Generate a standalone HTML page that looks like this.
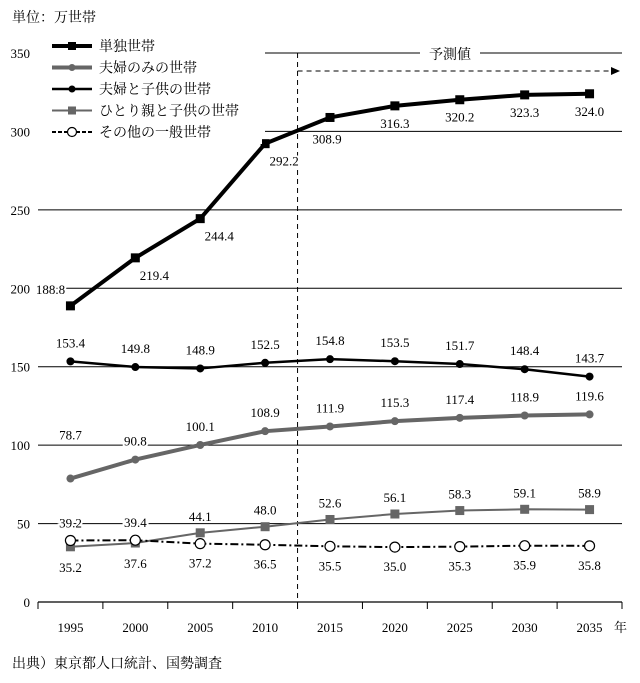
<!DOCTYPE html>
<html><head><meta charset="utf-8"><style>
body{margin:0;background:#fff;}
svg text{font-family:"Liberation Serif","Noto Serif CJK SC",serif;}
</style></head><body>
<svg id="chart" width="640" height="678" viewBox="0 0 640 678" xmlns="http://www.w3.org/2000/svg">
<text x="12" y="22" font-size="14">単位：万世帯</text>
<g id="grid"></g>
<g id="axes"></g>
<g id="series"></g>
<g id="labels"></g>
<g id="legend"></g>
<text x="12" y="668" font-size="14">出典）東京都人口統計、国勢調査</text>
</svg>
<script>
const years=["1995","2000","2005","2010","2015","2020","2025","2030","2035"];
const yTicks=[0,50,100,150,200,250,300,350];
const singleVals=[188.8,219.4,244.4,292.2,308.9,316.3,320.2,323.3,324.0];
const coupleVals=[78.7,90.8,100.1,108.9,111.9,115.3,117.4,118.9,119.6];
const coupleKidsVals=[153.4,149.8,148.9,152.5,154.8,153.5,151.7,148.4,143.7];
const parentKidsVals=[35.2,37.6,44.1,48.0,52.6,56.1,58.3,59.1,58.9];
const otherVals=[39.2,39.4,37.2,36.5,35.5,35.0,35.3,35.9,35.8];
const seriesNames=["単独世帯","夫婦のみの世帯","夫婦と子供の世帯","ひとり親と子供の世帯","その他の一般世帯"];

const NS="http://www.w3.org/2000/svg";
const X0=38,X1=622,Y0=602,Y350=53;
const band=(X1-X0)/years.length;
const xs=i=>X0+band*(i+0.5);
const ys=v=>Y0-(Y0-Y350)*v/350;
function mk(tag,attrs,parent,txt){const e=document.createElementNS(NS,tag);for(const k in attrs)e.setAttribute(k,attrs[k]);if(txt!==undefined)e.textContent=txt;parent.appendChild(e);return e;}
const grid=document.getElementById('grid'),axes=document.getElementById('axes'),ser=document.getElementById('series'),lab=document.getElementById('labels'),leg=document.getElementById('legend');

yTicks.forEach(t=>{
  if(t>0){const start=(t>=300)?265:X0;
    const g=mk('line',{x1:start,x2:X1,y1:ys(t),y2:ys(t),stroke:'#000','stroke-width':1},grid);
    
    }
  const tl=mk('text',{x:30,y:ys(t)+5,'font-size':13,'text-anchor':'end'},axes,String(t));
  
  
});
mk('line',{x1:X0,x2:X1,y1:Y0,y2:Y0,stroke:'#000','stroke-width':1.2},axes);
for(let i=0;i<=years.length;i++){mk('line',{x1:X0+band*i,x2:X0+band*i,y1:Y0,y2:Y0+7,stroke:'#000'},axes);}
years.forEach((y,i)=>{const t=mk('text',{x:xs(i),y:632,'font-size':13,'text-anchor':'middle'},axes,y);
  
  });
mk('text',{x:614,y:632,'font-size':13},axes,'年');
// forecast
const vx=X0+band*4;
mk('line',{x1:vx,x2:vx,y1:Y350,y2:Y0,stroke:'#000','stroke-dasharray':'5,4'},axes);
mk('rect',{x:420,y:44,width:60,height:18,fill:'#fff'},axes);
const ft=mk('text',{x:450,y:59,'font-size':14,'text-anchor':'middle'},axes,'予測値');


mk('line',{x1:vx,x2:612,y1:71,y2:71,stroke:'#000','stroke-dasharray':'5,4'},axes);
mk('path',{d:'M620,71 L611,67 L611,75 Z',fill:'#000'},axes);

function marker(type,x,y,color,size,p){
  if(type==='sq') return mk('rect',{x:x-size/2,y:y-size/2,width:size,height:size,fill:color},p);
  if(type==='c') return mk('circle',{cx:x,cy:y,r:size/2,fill:color},p);
  return mk('circle',{cx:x,cy:y,r:size/2,fill:'#fff',stroke:'#000','stroke-width':1.2},p);
}
const specs=[
 {vals:singleVals,color:'#000',w:4,m:'sq',ms:9,dash:null,name:'single-households'},
 {vals:coupleVals,color:'#666',w:4,m:'c',ms:8,dash:null,name:'couple-only'},
 {vals:coupleKidsVals,color:'#000',w:2.5,m:'c',ms:8,dash:null,name:'couple-with-children'},
 {vals:parentKidsVals,color:'#666',w:2,m:'sq',ms:9,dash:null,name:'single-parent'},
 {vals:otherVals,color:'#000',w:2,m:'o',ms:10,dash:'8,3,2,3',name:'other-households'}];
specs.forEach(s=>{
  const g=mk('g',{},ser);
  
  
  const pts=s.vals.map((v,i)=>xs(i)+','+ys(v)).join(' ');
  const a={points:pts,fill:'none',stroke:s.color,'stroke-width':s.w,'stroke-linejoin':'round'};
  if(s.dash)a['stroke-dasharray']=s.dash;
  mk('polyline',a,g);
  s.vals.forEach((v,i)=>{const m=marker(s.m,xs(i),ys(v),s.color,s.ms,g);
    
    });
});
function label(x,y,txt,name){
  const t=mk('text',{x:x,y:y,'font-size':13,'text-anchor':'middle',stroke:'#fff','stroke-width':4,'paint-order':'stroke'},lab,txt);
  
  
}
singleVals.forEach((v,i)=>{
  let dx=0,dy=22;
  if(i===0){dx=-20;dy=-12;} else if(i<=3){dx=19;dy=22;} else if(i===4){dx=-3;dy=26;}
  label(xs(i)+dx,ys(v)+dy,v.toFixed(1),'single-label-'+years[i]);
});
coupleVals.forEach((v,i)=>label(xs(i),ys(v)-(i===0?39:14),v.toFixed(1),'couple-label-'+years[i]));
coupleKidsVals.forEach((v,i)=>label(xs(i),ys(v)-14,v.toFixed(1),'couple-kids-label-'+years[i]));
parentKidsVals.forEach((v,i)=>{const below=i<2;label(xs(i),below?ys(v)+25:ys(v)-12,v.toFixed(1),'parent-label-'+years[i]);});
otherVals.forEach((v,i)=>{const above=i<2;label(xs(i),above?ys(v)-13:ys(v)+24,v.toFixed(1),'other-label-'+years[i]);});

// legend
mk('rect',{x:40,y:34,width:222,height:110,fill:'#fff'},leg);
specs.forEach((s,k)=>{
  const y=46+k*21.5;
  const g=mk('g',{},leg);
  
  
  const a={x1:52,x2:92,y1:y,y2:y,stroke:s.color,'stroke-width':s.w};
  if(s.dash)a['stroke-dasharray']='4,2';
  mk('line',a,g);
  marker(s.m,72,y,s.color,s.ms-1,g);
  mk('text',{x:99,y:y+5,'font-size':14},g,seriesNames[k]);
});
</script>
</body></html>
